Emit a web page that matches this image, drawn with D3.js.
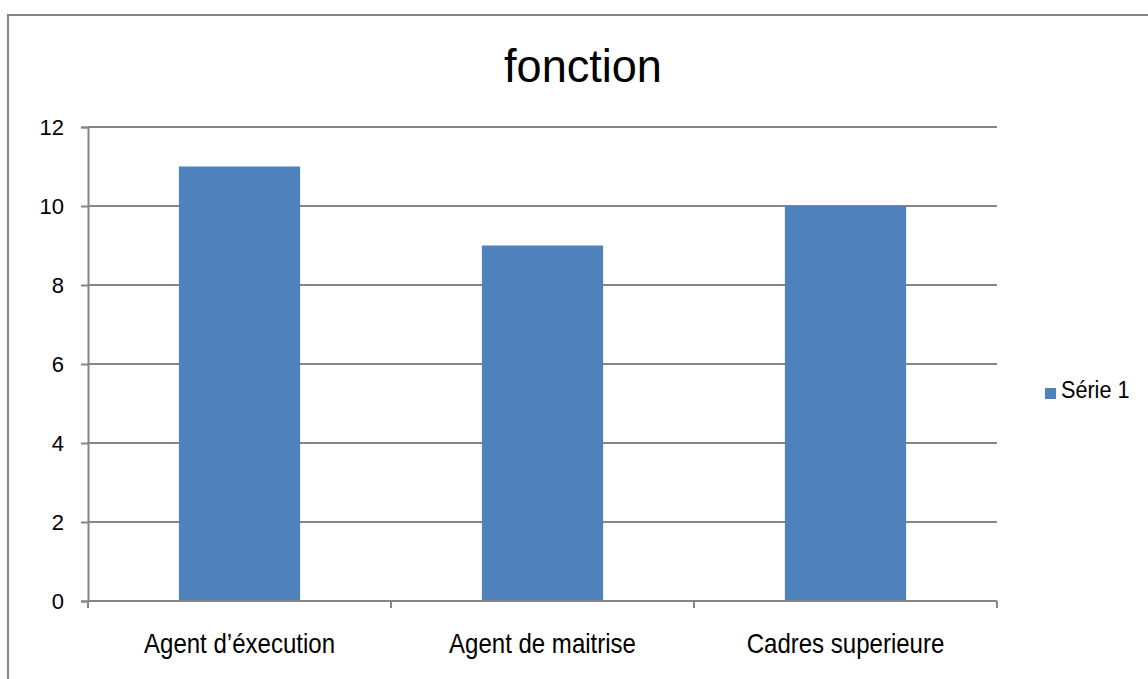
<!DOCTYPE html>
<html>
<head>
<meta charset="utf-8">
<script src="https://cdn.jsdelivr.net/npm/d3@7/dist/d3.min.js"></script>
<style>
  html, body { margin: 0; padding: 0; background: #fff; }
  svg { display: block; }
  text { font-family: "Liberation Sans", Arial, sans-serif; fill: #000; }
</style>
</head>
<body>
<svg id="chart" width="1148" height="679"></svg>
<script>
// Chart data
const categories = ["Agent d\u2019éxecution", "Agent de maitrise", "Cadres superieure"];
const seriesName = "Série 1";
const seriesValues = [11, 9, 10];
const yTicks = [0, 2, 4, 6, 8, 10, 12];
const titleText = "fonction";

const svg = d3.select("#chart");
const plot = { left: 88, right: 997, top: 127, bottom: 601 };
const gridColor = "#868686";
const barColor = "#4f81bd";

// Condensed text: horizontal squeeze to mimic a narrow face
function label(parent, x, y, str, size, sx, anchor) {
  return parent.append("text")
    .attr("transform", `translate(${x},${y}) scale(${sx},1)`)
    .attr("text-anchor", anchor || "start")
    .style("font-size", size + "px")
    .text(str);
}

// Outer chart frame (runs past the right and bottom edges)
svg.append("rect")
  .attr("x", 8).attr("y", 15)
  .attr("width", 1160).attr("height", 700)
  .attr("fill", "#fff")
  .attr("stroke", gridColor).attr("stroke-width", 2);

// Title
label(svg, 583, 82, titleText, 46, 0.98, "middle");

const x = d3.scaleBand()
  .domain(categories)
  .range([plot.left, plot.right])
  .paddingInner(0.6).paddingOuter(0.3);

const y = d3.scaleLinear()
  .domain([0, 12])
  .range([plot.bottom, plot.top]);

// Horizontal gridlines
svg.append("g")
  .selectAll("line")
  .data(yTicks.filter(t => t > 0))
  .join("line")
  .attr("x1", plot.left).attr("x2", plot.right)
  .attr("y1", d => y(d)).attr("y2", d => y(d))
  .attr("stroke", gridColor).attr("stroke-width", 2);

// Bars
svg.append("g")
  .selectAll("rect")
  .data(seriesValues)
  .join("rect")
  .attr("x", (d, i) => x(categories[i]))
  .attr("width", x.bandwidth())
  .attr("y", d => y(d))
  .attr("height", d => y(0) - y(d))
  .attr("fill", barColor);

// Y axis
const yAxis = svg.append("g")
  .attr("transform", `translate(${plot.left},0)`)
  .call(d3.axisLeft(y).tickValues(yTicks).tickSize(7).tickPadding(17).tickFormat(d3.format("d")));
yAxis.select(".domain").attr("stroke", gridColor).attr("stroke-width", 2);
yAxis.selectAll(".tick line").attr("stroke", gridColor).attr("stroke-width", 2);
yAxis.selectAll(".tick text")
  .style("font-size", "22px")
  .style("font-family", "'Liberation Sans', Arial, sans-serif")
  .attr("fill", "#000");

// X axis with boundary ticks between categories
const xAxisG = svg.append("g").attr("transform", `translate(0,${plot.bottom})`);
xAxisG.append("line")
  .attr("x1", plot.left).attr("x2", plot.right)
  .attr("stroke", gridColor).attr("stroke-width", 2);
const boundaries = d3.range(categories.length + 1)
  .map(i => plot.left + i * (plot.right - plot.left) / categories.length);
xAxisG.selectAll("line.tk")
  .data(boundaries)
  .join("line").attr("class", "tk")
  .attr("x1", d => d).attr("x2", d => d)
  .attr("y1", 0).attr("y2", 7)
  .attr("stroke", gridColor).attr("stroke-width", 2);
categories.forEach(c => {
  label(xAxisG, x(c) + x.bandwidth() / 2, 52, c, 27, 0.89, "middle");
});

// Legend
const legend = svg.append("g").attr("transform", "translate(1045,388)");
legend.append("rect").attr("width", 11).attr("height", 11).attr("fill", barColor);
label(legend, 16, 10, seriesName, 24, 0.9, "start");
</script>
</body>
</html>
